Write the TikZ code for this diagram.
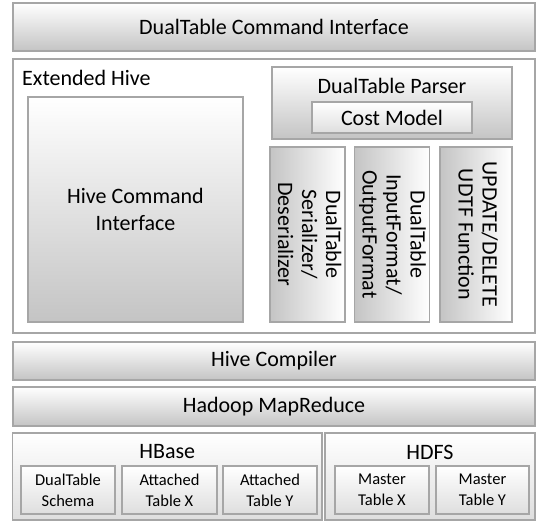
\documentclass[tikz,border=0pt]{standalone}
\usepackage{fontspec}
\setmainfont{Carlito}
\usepackage{graphicx}
\usepackage{tikz}
\usetikzlibrary{positioning}

\definecolor{rim}{RGB}{166,166,166}
\definecolor{shade}{RGB}{196,196,196}
\definecolor{paleshade}{RGB}{222,222,222}

\newcommand{\bigfont}{\fontsize{22}{27}\selectfont}
\newcommand{\smallfont}{\fontsize{16.5}{21}\selectfont}

\begin{document}
\begin{tikzpicture}[x = 1pt, y = -1pt]
\useasboundingbox (0, 0) rectangle (540, 522);
\tikzstyle{layer} = [draw = rim, line width = 1.5pt, rectangle, inner sep = 0pt,
  outer sep = 0pt, top color = white, bottom color = shade, align = center,
  font = \bigfont];
\tikzstyle{plain} = [layer, top color = white, bottom color = white];
\tikzstyle{light} = [layer, top color = white, bottom color = paleshade];
\tikzstyle{cell} = [light, font = \smallfont, minimum height = 48pt];
\tikzstyle{pillar} = [layer, left color = shade, right color = white,
  minimum width = 72pt, minimum height = 175pt];
% top and extended hive
\node [layer, minimum width = 522pt, minimum height = 48pt] at (274, 27) (cmd) {DualTable Command Interface};
\node [plain, minimum width = 522pt, minimum height = 274pt] at (274, 196) (ext) {};
\node [anchor = west, font = \bigfont, inner sep = 0pt] at (22, 78) (extlabel) {Extended Hive};
\node [layer, minimum width = 215pt, minimum height = 225pt] at (135.5, 209.5) (hci) {Hive Command \\ Interface};
\node [layer, minimum width = 240pt, minimum height = 72pt] at (392, 103) (parser) {};
\node [font = \bigfont, inner sep = 0pt] at (392, 86) (parserlabel) {DualTable Parser};
\node [light, minimum width = 160pt, minimum height = 31pt] at (392, 117.5) (cost) {Cost Model};
\node [pillar] at (307.5, 234.5) (serde) {\rotatebox{-90}{\begin{tabular}{@{}c@{}}DualTable\\[-3pt] Serializer/\\[-3pt] Deserializer\end{tabular}}};
\node [pillar] at (392, 234.5) (iofmt) {\rotatebox{-90}{\begin{tabular}{@{}c@{}}DualTable\\[-3pt] InputFormat/\\[-3pt] OutputFormat\end{tabular}}};
\node [pillar] at (476, 234.5) (udtf) {\rotatebox{-90}{\begin{tabular}{@{}c@{}}UPDATE/DELETE\\[-3pt] UDTF Function\end{tabular}}};
% lower layers
\node [layer, minimum width = 522pt, minimum height = 38pt] at (274, 361) (compiler) {Hive Compiler};
\node [layer, minimum width = 522pt, minimum height = 39pt] at (274, 406.5) (mapred) {Hadoop MapReduce};
\node [light, minimum width = 309.5pt, minimum height = 87pt] at (167.25, 476.5) (hbase) {};
\node [light, minimum width = 210pt, minimum height = 87pt] at (430, 476.5) (hdfs) {};
\node [font = \bigfont, inner sep = 0pt] at (167.25, 452) (hbaselabel) {HBase};
\node [font = \bigfont, inner sep = 0pt] at (430, 452) (hdfslabel) {HDFS};
\node [cell, minimum width = 94pt] at (68, 490) (schema) {DualTable \\ Schema};
\node [cell, minimum width = 95pt] at (169.5, 490) (attx) {Attached \\ Table X};
\node [cell, minimum width = 94pt] at (270, 490) (atty) {Attached \\ Table Y};
\node [cell, minimum width = 94pt] at (382, 490) (mastx) {Master \\ Table X};
\node [cell, minimum width = 93pt] at (482.5, 490) (masty) {Master \\ Table Y};
\end{tikzpicture}
\end{document}
